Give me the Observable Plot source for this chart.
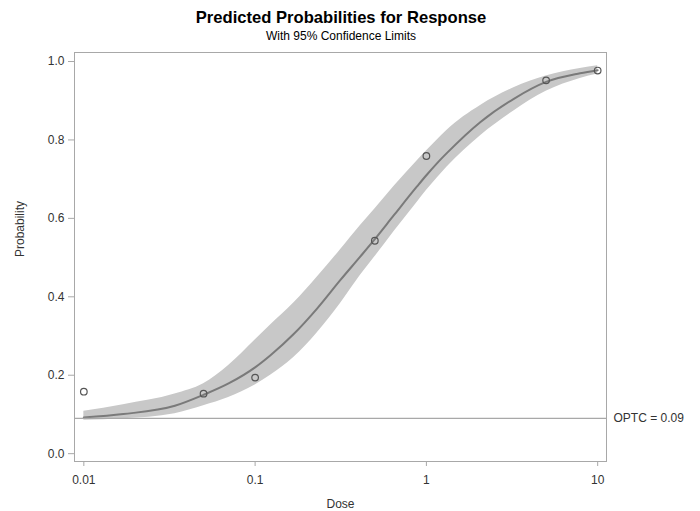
<!DOCTYPE html>
<html>
<head>
<meta charset="utf-8">
<script src="https://cdn.jsdelivr.net/npm/d3@7"></script>
<script src="https://cdn.jsdelivr.net/npm/@observablehq/plot@0.6"></script>
<style>
  body { margin: 0; background: #fff; font-family: "Liberation Sans", Arial, sans-serif; }
  #wrap { width: 700px; height: 511px; position: relative; overflow: hidden; }
  #head { height: 46px; position: relative; }
  #title { position: absolute; left: 0; width: 682px; top: 8px; text-align: center; font-weight: bold; font-size: 16.6px; color: #000; }
  #sub { position: absolute; left: 0; width: 682px; top: 29px; text-align: center; font-size: 12px; color: #000; }
</style>
</head>
<body>
<div id="wrap">
  <div id="head">
    <div id="title">Predicted Probabilities for Response</div>
    <div id="sub">With 95% Confidence Limits</div>
  </div>
  <div id="chart"></div>
</div>
<script>
// Observed proportions
const obsDose = [0.01, 0.05, 0.1, 0.5, 1, 5, 10];
const obsProb = [0.158, 0.153, 0.194, 0.543, 0.759, 0.952, 0.977];

// Predicted curve with 95% confidence limits
const curveDose  = [0.01, 0.017, 0.034, 0.05, 0.07, 0.1, 0.123, 0.168, 0.23, 0.315, 0.412, 0.5, 0.646, 0.884, 1.0, 1.156, 1.32, 2.07, 3.24, 5, 7.9, 10];
const curvePred  = [0.092, 0.101, 0.122, 0.150, 0.179, 0.220, 0.251, 0.305, 0.370, 0.443, 0.503, 0.547, 0.608, 0.682, 0.710, 0.741, 0.767, 0.846, 0.905, 0.948, 0.970, 0.978];
const curveLower = [0.085, 0.089, 0.102, 0.122, 0.143, 0.175, 0.200, 0.245, 0.308, 0.383, 0.455, 0.502, 0.566, 0.641, 0.671, 0.703, 0.731, 0.811, 0.874, 0.924, 0.957, 0.968];
const curveUpper = [0.108, 0.125, 0.152, 0.178, 0.225, 0.290, 0.328, 0.384, 0.450, 0.520, 0.582, 0.624, 0.681, 0.747, 0.772, 0.800, 0.825, 0.888, 0.933, 0.963, 0.982, 0.989];

const xTicks = [0.01, 0.1, 1, 10];
const xTickLabels = ["0.01", "0.1", "1", "10"];
const yTicks = [0, 0.2, 0.4, 0.6, 0.8, 1.0];
const optc = 0.09;
const optcLabel = "OPTC = 0.09";

const obs = obsDose.map((d, i) => ({dose: d, p: obsProb[i]}));
const curve = curveDose.map((d, i) => ({dose: d, p: curvePred[i], lo: curveLower[i], hi: curveUpper[i]}));

const chart = Plot.plot({
  width: 700,
  height: 465,
  marginTop: 6,
  marginBottom: 50,
  marginLeft: 74,
  marginRight: 94,
  style: {fontFamily: "Liberation Sans, Arial, sans-serif", fontSize: "12px", color: "#333", background: "#fff"},
  x: {type: "log", domain: [0.00882, 11.26]},
  y: {domain: [-0.020, 1.023]},
  marks: [
    Plot.areaY(curve, {x: "dose", y1: "lo", y2: "hi", fill: "#c8c8c8", curve: "monotone-x"}),
    Plot.line(curve, {x: "dose", y: "p", stroke: "#7a7a7a", strokeWidth: 2, curve: "monotone-x"}),
    Plot.ruleY([optc], {stroke: "#a8a8a8", strokeWidth: 1.3}),
    Plot.dot(obs, {x: "dose", y: "p", r: 3.3, stroke: "#555", strokeWidth: 1.2, fill: "none"}),
    Plot.text([optcLabel], {frameAnchor: "right", y: () => optc, dx: 7, textAnchor: "start", fill: "#333", fontSize: 12}),
    Plot.frame({stroke: "#a8a8a8"}),
    Plot.axisX({ticks: xTicks, tickFormat: (d) => xTickLabels[xTicks.indexOf(d)], tickSize: 5, tickPadding: 9, stroke: "#a8a8a8", label: null, fill: "#333"}),
    Plot.axisY({ticks: yTicks, tickFormat: d3.format(".1f"), tickSize: 6, tickPadding: 4, stroke: "#a8a8a8", label: null, fill: "#333"}),
    Plot.text(["Dose"], {frameAnchor: "bottom", dy: 46, fill: "#333", fontSize: 12}),
    Plot.text(["Probability"], {frameAnchor: "left", dx: -54, rotate: -90, fill: "#333", fontSize: 12})
  ]
});
document.getElementById("chart").appendChild(chart);
</script>
</body>
</html>
